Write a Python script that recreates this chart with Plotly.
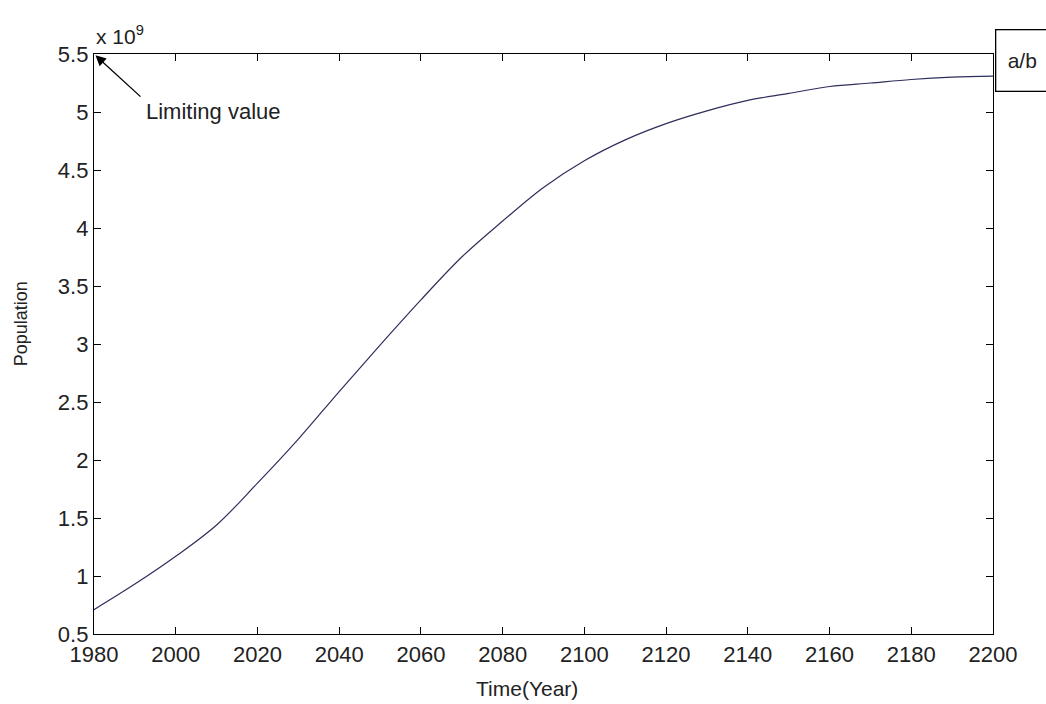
import plotly.graph_objects as go

years = [1980, 1990, 2000, 2010, 2020, 2030, 2040, 2050, 2060, 2070, 2080,
         2090, 2100, 2110, 2120, 2130, 2140, 2150, 2160, 2170, 2180, 2190, 2200]
population_e9 = [0.71, 0.93, 1.17, 1.44, 1.80, 2.18, 2.59, 2.99, 3.38, 3.75, 4.06,
                 4.35, 4.58, 4.76, 4.90, 5.01, 5.10, 5.16, 5.22, 5.25, 5.28, 5.30, 5.31]
x_ticks = [1980, 2000, 2020, 2040, 2060, 2080, 2100, 2120, 2140, 2160, 2180, 2200]
y_ticks = [0.5, 1, 1.5, 2, 2.5, 3, 3.5, 4, 4.5, 5, 5.5]
y_ticklabels = ["0.5", "1", "1.5", "2", "2.5", "3", "3.5", "4", "4.5", "5", "5.5"]
limit_year, limit_value = 1980, 5.5

FONT = "Liberation Sans"
TXT = "#222"

fig = go.Figure()
fig.add_trace(go.Scatter(x=years, y=population_e9, mode="lines",
                         line=dict(color="#2e2e5c", width=1.2, shape="spline"),
                         showlegend=False))

axis_common = dict(showline=True, linecolor="black", linewidth=1.3, mirror="ticks",
                   ticks="inside", ticklen=7, tickcolor="black", tickwidth=1.3,
                   showgrid=False, zeroline=False,
                   tickfont=dict(family=FONT, size=22, color=TXT))

fig.update_layout(
    width=1046, height=704,
    margin=dict(l=94, r=53, t=54, b=70),
    paper_bgcolor="white", plot_bgcolor="white",
    xaxis=dict(range=[1980, 2200], tickvals=x_ticks, **axis_common),
    yaxis=dict(range=[0.5, 5.5], tickvals=y_ticks, ticktext=y_ticklabels, **axis_common),
)

# axis titles
fig.add_annotation(xref="x", yref="paper", x=2086, y=0, yshift=-54, text="Time(Year)",
                   showarrow=False, xanchor="center", yanchor="middle",
                   font=dict(family=FONT, size=21, color=TXT))
fig.add_annotation(xref="paper", yref="y", x=0, y=3.17, xshift=-73, text="Population",
                   textangle=-90, showarrow=False, xanchor="center", yanchor="middle",
                   font=dict(family=FONT, size=18, color=TXT))

# exponent label
fig.add_annotation(xref="x", yref="y", x=1980, y=5.5, text="x 10<sup>9</sup>",
                   showarrow=False, xanchor="left", yanchor="bottom", yshift=4,
                   font=dict(family=FONT, size=21, color=TXT))
# arrow to limiting value
fig.add_annotation(xref="x", yref="y", x=limit_year, y=limit_value, text="",
                   showarrow=True, arrowhead=2, arrowsize=1.6, arrowwidth=1.3,
                   arrowcolor="black", ax=48, ay=44, standoff=2)
fig.add_annotation(xref="x", yref="y", x=limit_year, y=limit_value, text="Limiting value",
                   showarrow=False, xanchor="left", yanchor="middle", xshift=50, yshift=-57,
                   font=dict(family=FONT, size=22, color=TXT))
# a/b box
fig.add_annotation(xref="x", yref="y", x=2200, y=5.44, text="a/b",
                   showarrow=False, xanchor="left", yanchor="middle", xshift=2,
                   width=50, height=58, borderpad=1, bordercolor="black", borderwidth=1.3,
                   bgcolor="white", align="center",
                   font=dict(family=FONT, size=21, color=TXT))

fig.write_html("out.html")
